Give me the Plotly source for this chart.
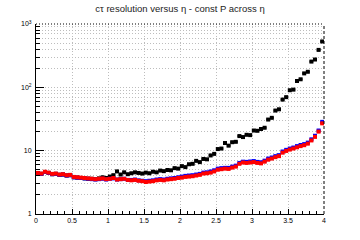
import plotly.graph_objects as go

n_bins = 80
eta_lo, eta_hi = 0.0, 4.0
bw = (eta_hi - eta_lo) / n_bins
eta = [eta_lo + bw * (i + 0.5) for i in range(n_bins)]

black_vals = [4.4, 4.3, 4.6, 4.45, 4.25, 4.3, 4.15, 4.2, 4.05, 4.1,
              3.8, 3.75, 3.7, 3.65, 3.6, 3.6, 3.55, 3.65, 3.8, 3.7,
              3.9, 4.1, 4.7, 4.2, 4.55, 4.25, 4.4, 4.55, 4.45, 4.35,
              4.5, 4.4, 4.65, 4.55, 4.85, 4.75, 4.95, 4.9, 5.3, 5.2,
              5.7, 5.5, 6.1, 6.2, 6.9, 6.6, 7.4, 7.3, 8.4, 8.9,
              10.6, 10.8, 13.2, 12.0, 13.6, 13.8, 17.0, 16.4, 17.8, 17.6,
              20.8, 20.6, 22.0, 23.0, 31.0, 33.0, 43.0, 45.0, 64.0, 70.0,
              90.0, 92.0, 126.0, 134.0, 166.0, 176.0, 255.0, 275.0, 390.0, 530.0]

blue_vals = [4.4, 4.3, 4.6, 4.45, 4.25, 4.3, 4.15, 4.2, 4.05, 4.1,
             3.8, 3.75, 3.7, 3.65, 3.6, 3.55, 3.5, 3.55, 3.6, 3.5,
             3.6, 3.65, 3.5, 3.55, 3.6, 3.45, 3.45, 3.5, 3.4, 3.35,
             3.3, 3.35, 3.4, 3.5, 3.55, 3.5, 3.6, 3.65, 3.7, 3.8,
             3.9, 4.0, 4.05, 4.1, 4.2, 4.3, 4.5, 4.55, 4.7, 4.9,
             5.2, 5.3, 5.35, 5.35, 5.6, 5.8, 6.4, 6.7, 6.65, 6.75,
             6.85, 6.65, 6.55, 6.95, 7.5, 7.8, 8.2, 8.5, 9.7, 10.3,
             10.8, 11.2, 11.8, 12.3, 12.7, 13.4, 15.1, 17.2, 20.8, 28.5]

red_vals = [4.45, 4.35, 4.65, 4.5, 4.3, 4.35, 4.2, 4.25, 4.1, 4.15,
            3.85, 3.8, 3.75, 3.7, 3.65, 3.6, 3.55, 3.6, 3.65, 3.55,
            3.6, 3.7, 3.5, 3.55, 3.6, 3.45, 3.4, 3.45, 3.35, 3.3,
            3.2, 3.25, 3.3, 3.4, 3.45, 3.4, 3.5, 3.55, 3.6, 3.7,
            3.75, 3.85, 3.9, 3.95, 4.05, 4.15, 4.35, 4.4, 4.5, 4.7,
            5.0, 5.1, 5.2, 5.15, 5.4, 5.6, 6.2, 6.5, 6.4, 6.5,
            6.6, 6.4, 6.3, 6.7, 7.2, 7.5, 7.9, 8.2, 9.3, 9.9,
            10.4, 10.8, 11.3, 11.8, 12.2, 12.9, 14.5, 16.5, 20.0, 27.0]

x_ticks = [0, 0.5, 1, 1.5, 2, 2.5, 3, 3.5, 4]
x_tick_text = ["0", "0.5", "1", "1.5", "2", "2.5", "3", "3.5", "4"]
y_ticks = [1, 10, 100, 1000]
y_tick_text = ["1", "10", "10<sup>2</sup>", "10<sup>3</sup>"]
y_minor = [m * d for d in (1, 10, 100) for m in range(2, 10)]
x_minor = [i / 10 for i in range(0, 41) if i % 5 != 0]

title_text = "cτ resolution versus η - const P across η"

fig = go.Figure()
for vals, col in ((black_vals, "black"), (blue_vals, "blue"), (red_vals, "red")):
    fig.add_trace(go.Scatter(
        x=eta, y=vals, mode="markers",
        marker=dict(symbol="square", size=4, color=col, line=dict(width=0)),
        error_x=dict(type="constant", value=bw / 2, color=col, thickness=2, width=0),
        showlegend=False, hoverinfo="skip"))

grid_col = "#bdbdbd"
grid_dash = "1px,2px"
fig.update_layout(
    width=360, height=240,
    margin=dict(l=36, r=36, t=24, b=26),
    paper_bgcolor="white", plot_bgcolor="white",
    font=dict(family="Liberation Sans, Arial, sans-serif", size=7, color="black"),
    title=dict(text=title_text, x=0.5, xanchor="center", y=1 - 9 / 240, yanchor="middle",
               font=dict(size=9.5, color="#222222")),
    xaxis=dict(range=[eta_lo, eta_hi], tickvals=x_ticks, ticktext=x_tick_text,
               ticks="inside", ticklen=5, tickcolor="black", tickwidth=1,
               showline=True, linecolor="black", linewidth=1, zeroline=False,
               ticklabelstandoff=0,
               showgrid=True, gridcolor=grid_col, gridwidth=1, griddash=grid_dash,
               minor=dict(tickvals=x_minor, ticks="inside", ticklen=3, tickcolor="black",
                          showgrid=False)),
    yaxis=dict(type="log", range=[0, 3], tickvals=y_ticks, ticktext=y_tick_text,
               ticks="inside", ticklen=8, tickcolor="black", tickwidth=1,
               showline=True, linecolor="black", linewidth=1, zeroline=False,
               ticklabelstandoff=2,
               showgrid=True, gridcolor=grid_col, gridwidth=1, griddash=grid_dash,
               minor=dict(tickvals=y_minor, ticks="inside", ticklen=4, tickcolor="black",
                          showgrid=True, gridcolor=grid_col, griddash=grid_dash, gridwidth=1)),
)
fig.add_shape(type="line", xref="paper", yref="paper", x0=0, x1=1, y0=1, y1=1,
              line=dict(color="black", width=1, dash="1px,2px"))
fig.add_shape(type="line", xref="paper", yref="paper", x0=1, x1=1, y0=0, y1=1,
              line=dict(color="black", width=1, dash="3px,2px"))

fig.write_html("out.html")
